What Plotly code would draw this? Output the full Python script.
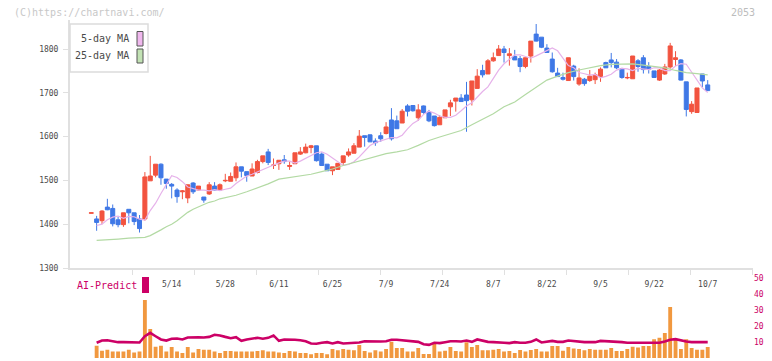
import plotly.graph_objects as go

# ---------------- data ----------------
date_labels = ["5/14", "5/28", "6/11", "6/25", "7/9", "7/24", "8/7", "8/22", "9/5", "9/22", "10/7"]
label_pos = [15, 25, 35, 45, 55, 65, 75, 85, 95, 105, 115]   # trading-day index of each label

opens = [1425,1412,1408,1439,1436,1410,1399,1434,1426,1412,
         1412,1499,1512,1537,1503,1491,1478,1474,1460,1494,
         1478,1462,1469,1487,1478,1499,1498,1506,1531,1520,
         1510,1518,1543,1565,1534,1538,1547,1532,1538,1560,
         1563,1575,1579,1560,1537,1522,1525,1541,1558,1562,
         1576,1602,1604,1590,1602,1607,1638,1636,1631,1670,
         1671,1643,1670,1656,1647,1627,1643,1668,1681,1688,
         1695,1684,1710,1751,1743,1773,1785,1800,1785,1783,
         1778,1760,1784,1834,1827,1802,1777,1745,1735,1728,
         1761,1720,1731,1728,1730,1737,1769,1775,1770,1755,
         1734,1732,1773,1780,1760,1750,1729,1743,1759,1776,
         1775,1725,1657,1655,1743,1718]
highs = [1426,1419,1432,1458,1445,1417,1426,1434,1426,1421,
         1519,1556,1537,1539,1503,1494,1482,1478,1490,1496,
         1487,1462,1496,1496,1493,1515,1518,1541,1531,1520,
         1539,1547,1556,1572,1550,1546,1558,1543,1563,1576,
         1584,1581,1579,1564,1537,1531,1539,1556,1573,1585,
         1615,1602,1605,1596,1610,1633,1665,1648,1663,1674,
         1671,1674,1671,1661,1647,1649,1661,1684,1688,1697,
         1725,1727,1754,1764,1777,1792,1809,1807,1802,1798,
         1784,1780,1818,1857,1827,1811,1792,1757,1746,1780,
         1764,1756,1734,1752,1746,1758,1771,1791,1777,1757,
         1746,1784,1777,1786,1770,1750,1754,1766,1814,1795,
         1777,1725,1681,1711,1743,1729]
lows = [1425,1385,1400,1432,1395,1393,1394,1402,1398,1381,
        1408,1499,1507,1490,1481,1459,1449,1457,1448,1469,
        1477,1449,1467,1477,1477,1496,1498,1498,1507,1497,
        1510,1516,1539,1535,1526,1524,1538,1524,1538,1558,
        1562,1562,1543,1534,1522,1512,1525,1535,1554,1562,
        1576,1577,1588,1579,1588,1605,1591,1618,1631,1646,
        1657,1636,1652,1633,1623,1627,1643,1647,1657,1680,
        1611,1671,1710,1735,1743,1771,1785,1769,1762,1775,
        1747,1756,1769,1817,1802,1792,1746,1737,1728,1728,
        1728,1716,1716,1725,1720,1725,1757,1758,1754,1732,
        1731,1732,1748,1744,1744,1735,1727,1741,1755,1761,
        1728,1646,1652,1655,1713,1705]
closes = [1426,1404,1430,1433,1401,1399,1426,1426,1406,1390,
          1508,1510,1537,1506,1493,1487,1463,1476,1490,1474,
          1487,1455,1490,1478,1490,1500,1509,1531,1521,1511,
          1526,1543,1556,1541,1535,1546,1543,1534,1563,1565,
          1576,1579,1545,1534,1522,1531,1539,1556,1565,1579,
          1601,1598,1588,1586,1595,1622,1595,1618,1658,1658,
          1659,1661,1655,1636,1625,1644,1661,1677,1688,1680,
          1682,1727,1738,1741,1773,1780,1800,1792,1789,1775,
          1760,1780,1818,1818,1804,1792,1748,1737,1731,1780,
          1737,1734,1721,1738,1741,1754,1757,1769,1757,1735,
          1735,1784,1760,1753,1754,1735,1752,1759,1807,1780,
          1729,1662,1674,1711,1727,1705]

# 5-day MA, trading-day index 1..115
ma5 = [1397,1400,1410,1416,1418.7,1413.3,1417.8,1417.0,1411.6,1409.4,
       1431.2,1448.0,1470.2,1490.2,1510.7,1506.5,1497.1,1484.9,1481.6,1477.9,
       1477.9,1476.3,1479.0,1476.7,1479.8,1482.3,1493.0,1501.3,1509.8,1514.1,
       1519.4,1526.3,1531.2,1535.2,1540.1,1544.1,1544.0,1539.7,1544.1,1550.1,
       1556.1,1563.2,1565.4,1559.6,1551.0,1542.0,1534.1,1536.3,1542.5,1553.8,
       1567.8,1579.6,1586.2,1590.4,1593.7,1597.9,1597.2,1603.1,1617.6,1630.1,
       1637.5,1650.8,1658.1,1653.7,1647.1,1644.1,1644.1,1648.6,1658.9,1669.8,
       1677.4,1690.7,1703.0,1713.5,1732.2,1751.7,1766.3,1777.0,1786.6,1786.9,
       1783.0,1779.0,1784.3,1790.1,1795.9,1802.3,1795.9,1779.6,1762.2,1757.3,
       1746.4,1743.5,1740.3,1741.9,1734.1,1737.6,1742.3,1751.9,1755.7,1754.5,
       1750.6,1755.9,1754.1,1753.1,1757.1,1757.1,1750.7,1750.5,1761.3,1766.4,
       1765.3,1747.2,1730.2,1711.1,1700.6]

# 25-day MA, read at these trading-day indices
ma25_idx = [1,3,5,7,9,10,11,12,13,14,15,16,17,18,19,20,21,22,23,24,25,27,29,31,33,35,37,39,41,43,
            45,47,49,51,53,55,57,59,61,63,65,67,69,71,73,75,77,79,81,83,85,87,89,91,93,95,97,99,
            101,103,105,107,109,111,113,115]
ma25 = [1363,1364,1366,1368,1369,1370,1374,1380,1387,1394,1400,1408,1418,1427,1434,1440,1445,1450,
        1453,1458,1461,1466,1474,1483,1492,1503,1507,1510,1514,1520,1526,1534,1541,1548,1555,1561,
        1565,1570,1580,1591,1599,1606,1614,1627,1639,1652,1668,1679,1696,1713,1729,1738,1746,1752,
        1757,1762,1765,1766,1766,1763,1760,1757,1751,1746,1744,1741]

# AI-Predict panel, trading-day index 1..115
ai_bars = [7.7,4.6,5.2,4.0,4.0,4.0,5.2,3.5,4.0,36.2,
           18.1,7.1,7.7,4.0,6.9,4.0,3.1,6.9,3.5,5.6,
           5.2,5.2,4.0,3.1,4.4,4.4,4.0,4.0,4.0,4.0,
           4.4,4.8,4.0,4.0,3.5,3.1,4.4,4.0,3.1,3.1,
           2.3,3.1,3.1,2.3,5.6,4.8,5.6,5.2,4.8,8.1,
           4.4,3.5,4.8,4.0,5.6,10.2,6.2,6.2,4.0,4.0,
           6.3,2.5,2.5,8.8,4.0,4.6,6.9,4.4,4.0,9.8,
           6.9,8.1,4.8,4.8,5.2,5.6,4.0,4.4,3.1,5.0,
           4.0,5.0,5.6,4.0,4.0,7.5,7.5,4.6,6.9,6.0,
           5.6,4.8,5.6,5.2,5.2,5.2,6.2,4.4,4.4,5.6,
           7.1,6.5,7.5,7.5,11.7,12.7,15.6,31.9,11.2,5.6,
           11.7,6.2,5.2,5.2,6.9]
ai_line = [9.5,10.9,11.1,10.3,9.9,9.9,9.9,9.5,9.7,13.6,
           15.7,13.6,11.6,10.9,12.0,12.2,11.6,12.8,13.0,13.0,
           12.8,13.2,14.5,14.1,13.2,12.4,13.0,10.7,11.6,12.2,
           12.6,12.0,12.6,14.1,10.7,11.6,11.6,11.4,11.1,10.5,
           9.1,8.9,9.5,9.9,9.1,9.9,9.1,9.3,9.5,9.7,
           10.5,10.3,10.3,10.3,10.5,11.4,11.4,11.1,10.5,10.5,
           10.1,8.6,8.2,9.5,9.3,9.9,10.5,10.5,10.3,10.9,
           10.1,11.6,10.7,10.1,9.9,9.5,9.5,9.3,9.9,9.5,
           9.5,10.1,11.6,9.7,10.3,10.7,10.1,10.1,10.9,10.5,
           10.3,9.9,9.9,9.9,10.7,10.5,10.7,10.3,9.9,9.5,
           9.5,9.5,9.3,9.3,9.5,9.5,10.3,11.4,11.8,10.9,
           10.3,9.9,9.9,10.3,9.9]

price_ticks = [1300, 1400, 1500, 1600, 1700, 1800]
ai_ticks = [0, 10, 20, 30, 40, 50]

# ---------------- styling ----------------
RED = "#f2533f"
BLUE = "#3f78e6"
PINK = "#e6b2ea"
GREEN = "#b3daa4"
ORANGE = "#f1983f"
MAG = "#cc0066"
AX = "#e0e0e0"
TXT = "#4a4a4a"
FONT = "DejaVu Sans Mono"

W, H = 772, 361
ML, MR, MT, MB = 70, 19, 20, 3


def px(x):
    return (x - ML) / (W - ML - MR)


def py(y):
    return (H - MB - y) / (H - MT - MB)


N = len(opens)
xi = list(range(N))
x_sub = list(range(1, N))
X0, X1 = -3.97, 123.45
minor_vals = [X0 + k * (X1 - X0) / 11 for k in range(1, 12)]
minor_vals[-1] -= 0.01

fig = go.Figure()
fig.add_trace(go.Scatter(x=x_sub, y=ma5, mode="lines", line=dict(color=PINK, width=1.2),
                         xaxis="x", yaxis="y", hoverinfo="skip"))
fig.add_trace(go.Scatter(x=ma25_idx, y=ma25, mode="lines", line=dict(color=GREEN, width=1.2),
                         xaxis="x", yaxis="y", hoverinfo="skip"))
fig.add_trace(go.Candlestick(
    x=xi, open=opens, high=highs, low=lows, close=closes,
    increasing=dict(line=dict(color=RED, width=1), fillcolor=RED),
    decreasing=dict(line=dict(color=BLUE, width=1), fillcolor=BLUE),
    whiskerwidth=0, xaxis="x", yaxis="y", hoverinfo="skip"))
fig.add_trace(go.Bar(x=x_sub, y=ai_bars, width=0.72, marker=dict(color=ORANGE, line=dict(width=0)),
                     xaxis="x2", yaxis="y2", hoverinfo="skip"))
fig.add_trace(go.Scatter(x=x_sub, y=ai_line, mode="lines", line=dict(color=MAG, width=2.6),
                         xaxis="x2", yaxis="y2", hoverinfo="skip"))

fig.update_layout(
    width=W, height=H,
    margin=dict(l=ML, r=MR, t=MT, b=MB, autoexpand=False),
    paper_bgcolor="white", plot_bgcolor="white",
    showlegend=False,
    boxgap=0.25, boxgroupgap=0,
    font=dict(family=FONT, size=8, color=TXT),
    xaxis=dict(domain=[0, 1], range=[X0, X1], anchor="y",
               rangeslider=dict(visible=False),
               tickmode="array", tickvals=label_pos, ticktext=date_labels,
               ticks="", ticklabelstandoff=7,
               tickfont=dict(family=FONT, size=8, color=TXT),
               showline=True, linecolor=AX, linewidth=2,
               showgrid=False, zeroline=False,
               minor=dict(ticks="outside", ticklen=5, tickcolor=AX, tickwidth=1,
                          tickmode="array", tickvals=minor_vals, showgrid=False)),
    yaxis=dict(domain=[py(268), 1], range=[1300, 1300 + 248 / 0.438], anchor="x",
               tickmode="array", tickvals=price_ticks,
               ticks="outside", ticklen=5, tickcolor=AX, tickwidth=1,
               ticklabelstandoff=3,
               tickfont=dict(family=FONT, size=8, color=TXT),
               showline=True, linecolor=AX, linewidth=2,
               showgrid=False, zeroline=False),
    xaxis2=dict(domain=[0, 1], range=[X0, X1], anchor="y2",
                showline=False, showticklabels=False, ticks="",
                showgrid=False, zeroline=False),
    yaxis2=dict(domain=[0, py(358 - 51.5 * 1.6)], range=[0, 51.5], anchor="x2", side="right",
                tickmode="array", tickvals=ai_ticks, ticks="",
                tickfont=dict(family=FONT, size=8, color=MAG),
                showline=False, showgrid=False, zeroline=False),
)

annotations = [
    dict(text="(C)https://chartnavi.com/", x=px(12), y=py(12), xanchor="left", yanchor="middle",
         font=dict(family=FONT, size=10, color="#c8c8c8")),
    dict(text="2053", x=px(757), y=py(12), xanchor="right", yanchor="middle",
         font=dict(family=FONT, size=10, color="#bdbdbd")),
    dict(text="5-day MA", x=px(131), y=py(38.5), xanchor="right", yanchor="middle",
         font=dict(family=FONT, size=10, color=TXT)),
    dict(text="25-day MA", x=px(131), y=py(56), xanchor="right", yanchor="middle",
         font=dict(family=FONT, size=10, color=TXT)),
    dict(text="AI-Predict", x=px(75), y=py(285.5), xanchor="left", yanchor="middle",
         font=dict(family=FONT, size=10, color=MAG)),
]
for a in annotations:
    a.update(xref="paper", yref="paper", showarrow=False)
fig.update_layout(annotations=annotations)

shapes = [
    dict(type="rect", x0=px(70), x1=px(148), y0=py(72), y1=py(24),
         line=dict(color="#dcdcdc", width=1.5), fillcolor="white"),
    dict(type="rect", x0=px(137), x1=px(143), y0=py(46), y1=py(31.5),
         line=dict(color="#555555", width=1), fillcolor="#f0b8ee"),
    dict(type="rect", x0=px(137), x1=px(143), y0=py(63), y1=py(49),
         line=dict(color="#555555", width=1), fillcolor="#c2e2b4"),
    dict(type="rect", x0=px(142), x1=px(149), y0=py(293), y1=py(277),
         line=dict(width=0), fillcolor=MAG),
]
for s in shapes:
    s.update(xref="paper", yref="paper", layer="above")
fig.update_layout(shapes=shapes)

fig.write_html("out.html", config={"displayModeBar": False},
               post_script="document.body.style.margin='0px';document.body.style.overflow='hidden';")
